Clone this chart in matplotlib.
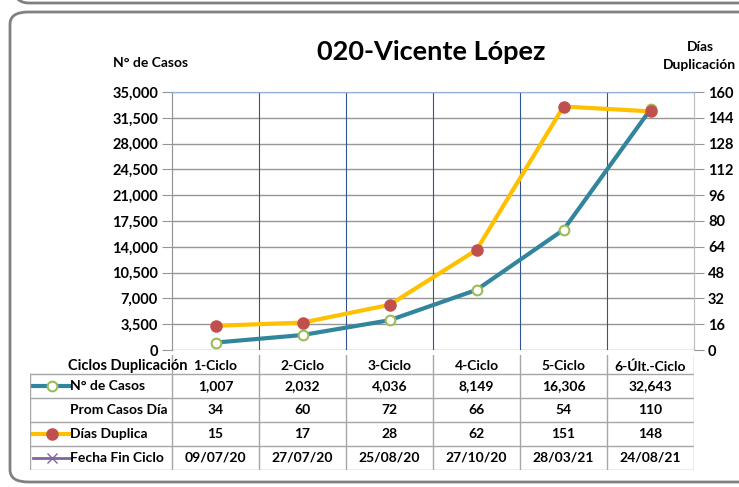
import matplotlib.pyplot as plt
from matplotlib.patches import FancyBboxPatch
from matplotlib.lines import Line2D

plt.rcParams['font.family'] = ['Lato', 'DejaVu Sans']
plt.rcParams['font.weight'] = 'bold'

ciclos = ['1-Ciclo', '2-Ciclo', '3-Ciclo', '4-Ciclo', '5-Ciclo', '6-Últ.-Ciclo']
casos = [1007, 2032, 4036, 8149, 16306, 32643]
prom_casos = [34, 60, 72, 66, 54, 110]
dias_duplica = [15, 17, 28, 62, 151, 148]
fecha_fin = ['09/07/20', '27/07/20', '25/08/20', '27/10/20', '28/03/21', '24/08/21']

TEAL = '#31859C'
YELLOW = '#FFC000'
RED = '#C0504D'
GREEN = '#9BBB59'
PURPLE = '#8064A2'

W, H = 739, 487
fig = plt.figure(figsize=(W / 100, H / 100), dpi=100)


def fx(px):
    return px / W


def fy(py):
    return 1 - py / H


# frames
fig.patches.append(FancyBboxPatch((fx(10), fy(482)), fx(760) - fx(10), fy(12) - fy(482),
                                  boxstyle='round,pad=0,rounding_size=0.025',
                                  transform=fig.transFigure, fill=False,
                                  edgecolor='#808080', linewidth=2, clip_on=False))
fig.patches.append(FancyBboxPatch((fx(10), fy(3)), fx(760) - fx(10), fy(-40) - fy(3),
                                  boxstyle='round,pad=0,rounding_size=0.025',
                                  transform=fig.transFigure, fill=False,
                                  edgecolor='#808080', linewidth=2, clip_on=False))

left, right, top, bottom = 172, 694, 92, 350
ax = fig.add_axes([fx(left), fy(bottom), fx(right) - fx(left), fy(top) - fy(bottom)])
ax2 = ax.twinx()

x = list(range(len(ciclos)))
ax.set_xlim(-0.5, len(ciclos) - 0.5)
ax.set_ylim(0, 35000)
ax.set_yticks(range(0, 35001, 3500))
ax.set_yticklabels([f'{v:,}' for v in range(0, 35001, 3500)])
ax2.set_ylim(0, 160)
ax2.set_yticks(range(0, 161, 16))

ax.set_xticks([])
ax.grid(axis='y', color='#969696', linewidth=1)
for xb in [i + 0.5 for i in x[:-1]]:
    ax.axvline(xb, color='#2F5597', linewidth=0.8, zorder=1)
ax.set_axisbelow(True)

ax.spines['top'].set_color('#95B3D7')
ax2.spines['top'].set_color('#95B3D7')
ax.spines['left'].set_color('#969696')
ax.spines['right'].set_color('#BFBFBF')
ax2.spines['right'].set_color('#BFBFBF')
ax2.spines['left'].set_color('#969696')
ax.spines['bottom'].set_visible(False)
ax2.spines['bottom'].set_visible(False)

ax.tick_params(axis='y', length=7, color='#969696', labelsize=10.5, pad=3)
ax2.tick_params(axis='y', length=7, color='#969696', labelsize=10.5, pad=3)

ax.plot(x, casos, color=TEAL, linewidth=3, marker='o', markersize=7,
        markerfacecolor='white', markeredgecolor=GREEN, markeredgewidth=1.5, zorder=3)
ax2.plot(x, dias_duplica, color=YELLOW, linewidth=3, marker='o', markersize=8,
         markerfacecolor=RED, markeredgecolor=RED, zorder=4)

fig.text(fx(431), fy(52), '020-Vicente López', ha='center', va='center',
         fontsize=19.5, fontweight='bold')
fig.text(fx(151), fy(63), 'N° de Casos', ha='center', va='center', fontsize=10)
fig.text(fx(700), fy(47), 'Días', ha='center', va='center', fontsize=10)
fig.text(fx(699), fy(65), 'Duplicación', ha='center', va='center', fontsize=10)

# data table
colw = (right - left) / len(ciclos)
tleft, ttop, tbot = 30, 374, 470
label_cols = (left - tleft) / colw
tax = fig.add_axes([fx(tleft), fy(tbot), fx(right) - fx(tleft), fy(355) - fy(tbot)])
tax.set_xlim(-0.5 - label_cols, len(ciclos) - 0.5)
nrows = 4
header_h = (ttop - 355) / ((tbot - ttop) / nrows)
tax.set_ylim(nrows, -header_h)
tax.axis('off')

for i, c in enumerate(ciclos):
    tax.text(i, -header_h / 2 + 0.08, c, ha='center', va='center', fontsize=10)
fig.text(fx(128), fy(366), 'Ciclos Duplicación', ha='center', va='center', fontsize=10.5)

rows = [
    ('N° de Casos', [f'{v:,}' for v in casos]),
    ('Prom Casos Día', [str(v) for v in prom_casos]),
    ('Días Duplica', [str(v) for v in dias_duplica]),
    ('Fecha Fin Ciclo', fecha_fin),
]
xl = -0.5 - label_cols
lab_x = xl + (70 - tleft) / colw
for r, (name, vals) in enumerate(rows):
    yc = r + 0.5
    tax.text(lab_x, yc, name, ha='left', va='center', fontsize=10)
    for i, v in enumerate(vals):
        tax.text(i, yc, v, ha='center', va='center', fontsize=10)

# legend keys in table
kx0 = xl + 3 / colw
kx1 = lab_x
km = (kx0 + kx1) / 2
tax.add_line(Line2D([kx0, kx1], [0.5, 0.5], color=TEAL, linewidth=3))
tax.plot([km], [0.5], marker='o', markersize=7, markerfacecolor='white',
         markeredgecolor=GREEN, markeredgewidth=1.5)
tax.add_line(Line2D([kx0, kx1], [2.5, 2.5], color=YELLOW, linewidth=3))
tax.plot([km], [2.5], marker='o', markersize=8, color=RED)
tax.add_line(Line2D([kx0, kx1], [3.5, 3.5], color=PURPLE, linewidth=2))
tax.plot([km], [3.5], marker='x', markersize=7, color=PURPLE)

grid_c = '#A6A6A6'
for r in range(nrows + 1):
    tax.plot([xl, len(ciclos) - 0.5], [r, r], color=grid_c, linewidth=1)
tax.plot([xl, xl], [0, nrows], color=grid_c, linewidth=1)
for i in range(len(ciclos) + 1):
    tax.plot([i - 0.5, i - 0.5], [-header_h, nrows], color=grid_c, linewidth=1)

fig.savefig('out.png', dpi=100)
